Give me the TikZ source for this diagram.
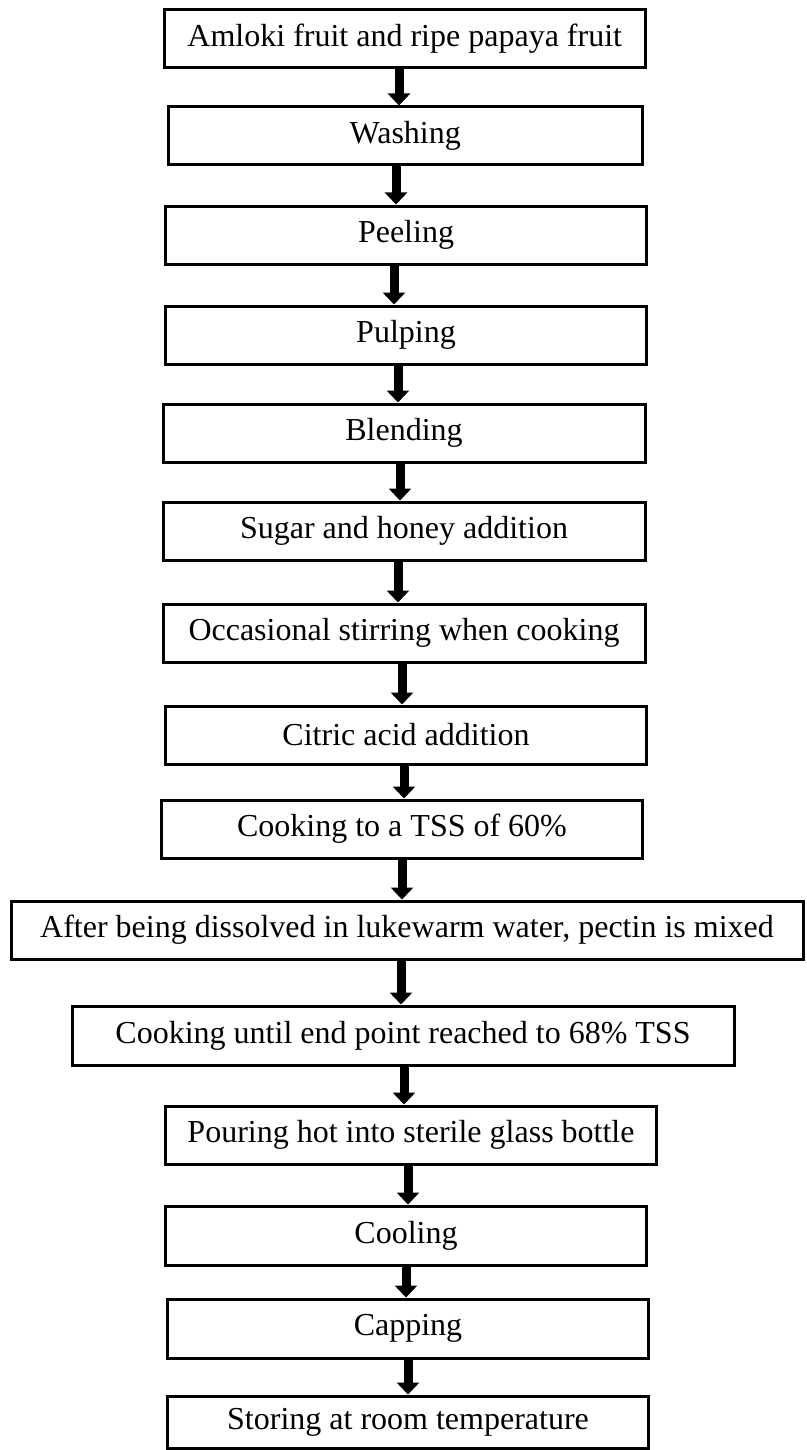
\documentclass[tikz,border=0pt]{standalone}
\usepackage{fontspec}
\setmainfont{Liberation Serif}
\usetikzlibrary{arrows.meta}

\begin{document}
\begin{tikzpicture}[x=1pt,y=-1pt,
    stepbox/.style={draw,line width=3pt,minimum width=481pt,minimum height=58pt,inner sep=0pt,font=\fontsize{32}{38}\selectfont},
    flowarrow/.style={line width=9pt,-{Triangle[width=22pt,length=12pt]}}]
    \useasboundingbox (0,0) rectangle (806,1450);
    \node[stepbox,minimum width=480.5pt] (fruit) at (404.75,38.5) {Amloki fruit and ripe papaya fruit};
    \node[stepbox,minimum width=474.5pt] (wash) at (405.25,136) {Washing};
    \node[stepbox] (peel) at (406,235) {Peeling};
    \node[stepbox] (pulp) at (406,335) {Pulping};
    \node[stepbox,minimum width=482pt] (blend) at (404,433) {Blending};
    \node[stepbox,minimum width=482pt] (sugar) at (404,531) {Sugar and honey addition};
    \node[stepbox,minimum width=482pt] (stir) at (404,633) {Occasional stirring when cooking};
    \node[stepbox] (citric) at (406,735) {Citric acid addition};
    \node[stepbox,minimum width=480.5pt] (cook) at (402,829) {Cooking to a TSS of 60\%};
    \node[stepbox,minimum width=792pt] (pectin) at (407,930) {After being dissolved in lukewarm water, pectin is mixed};
    \node[stepbox,minimum width=662pt,minimum height=59pt] (endpt) at (403,1035.5) {Cooking until end point reached to 68\% TSS};
    \node[stepbox,minimum width=491.5pt] (pour) at (411,1135) {Pouring hot into sterile glass bottle};
    \node[stepbox,minimum height=59pt] (cool) at (406,1235.5) {Cooling};
    \node[stepbox,minimum height=59pt] (cap) at (408,1328.5) {Capping};
    \node[stepbox,minimum height=52pt] (store) at (408,1422) {Storing at room temperature};
    % arrows between the steps
    \foreach \a/\b/\x in {fruit/wash/399,wash/peel/396,peel/pulp/394,pulp/blend/398,blend/sugar/400,sugar/stir/398,stir/citric/402,citric/cook/404,cook/pectin/402,pectin/endpt/401,endpt/pour/404,pour/cool/408,cool/cap/406,cap/store/408}
      \draw[flowarrow] (\x,0 |- \a.south) -- (\x,0 |- \b.north);
\end{tikzpicture}
\end{document}
